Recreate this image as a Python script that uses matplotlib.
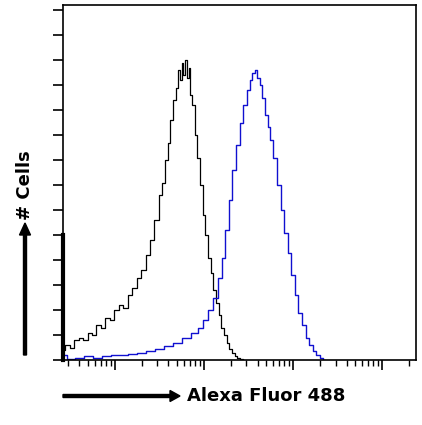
import matplotlib
matplotlib.use("Agg")
import matplotlib.pyplot as plt
import numpy as np

black_logx = [0.42,0.47,0.52,0.57,0.62,0.67,0.72,0.77,0.82,0.87,0.92,0.97,1.02,1.07,1.12,1.17,1.22,1.27,1.32,1.37,1.42,1.47,1.52,1.55,1.58,1.61,1.64,1.67,1.70,1.72,1.74,1.76,1.78,1.80,1.82,1.84,1.86,1.88,1.91,1.94,1.97,2.00,2.03,2.06,2.09,2.12,2.15,2.18,2.21,2.24,2.27,2.30,2.33,2.36,2.39,2.42,2.45]
black_y = [0.4,0.6,0.5,0.8,0.9,0.8,1.1,1.0,1.4,1.3,1.7,1.6,2.0,2.2,2.1,2.6,2.9,3.3,3.6,4.2,4.8,5.6,6.6,7.1,8.0,8.7,9.6,10.4,10.9,11.6,11.2,11.9,11.4,12.0,11.3,11.7,10.6,10.2,9.0,8.1,7.0,5.8,5.0,4.1,3.5,2.8,2.3,1.8,1.3,1.0,0.7,0.45,0.3,0.15,0.1,0.05,0.0]
blue_logx = [0.42,0.5,0.6,0.7,0.8,0.9,1.0,1.1,1.2,1.3,1.4,1.5,1.6,1.7,1.8,1.9,1.96,2.02,2.08,2.13,2.18,2.22,2.26,2.30,2.34,2.38,2.42,2.46,2.50,2.53,2.56,2.59,2.61,2.64,2.67,2.70,2.73,2.76,2.80,2.84,2.88,2.92,2.96,3.00,3.04,3.08,3.12,3.16,3.20,3.24,3.28,3.32,3.36]
blue_y = [0.2,0.05,0.1,0.15,0.1,0.15,0.2,0.2,0.25,0.3,0.35,0.45,0.55,0.7,0.9,1.1,1.3,1.6,2.0,2.5,3.3,4.1,5.2,6.4,7.6,8.6,9.5,10.2,10.8,11.2,11.5,11.6,11.3,11.0,10.5,9.8,9.3,8.8,8.1,7.0,6.0,5.1,4.3,3.4,2.6,1.9,1.4,0.9,0.6,0.35,0.2,0.1,0.0]

fig = plt.figure(figsize=(4.22, 4.25), dpi=100)
ax = fig.add_axes([63/422, 65/425, (416-63)/422, (360-5)/425])
ax.step(10**np.array(black_logx), black_y, where='mid', color='black', lw=0.9)
ax.step(10**np.array(blue_logx), blue_y, where='mid', color='#1010d0', lw=1.0)
ax.set_xscale('log')
ax.set_xlim(10**0.42, 10**4.38)
ax.set_ylim(0, 14.2)
ax.set_yticks(range(0, 15))
ax.set_yticklabels([])
ax.xaxis.set_minor_formatter(plt.NullFormatter())
ax.xaxis.set_major_formatter(plt.NullFormatter())
ax.tick_params(axis='x', which='major', length=7, width=1.2, direction='out')
ax.tick_params(axis='x', which='minor', length=4, width=1.0, direction='out')
ax.tick_params(axis='y', length=7, width=1.2, direction='out')
for s in ax.spines.values():
    s.set_linewidth(1.2)
ax.plot([10**0.42, 10**0.42], [0, 5], color='black', lw=3, clip_on=False)

fig.patches.append(matplotlib.patches.FancyArrow(63/422, 29/425, 117/422, 0, width=3/425,
    head_width=11/425, head_length=10/422, color='black', transform=fig.transFigure, length_includes_head=True))
fig.text(187/422, 29/425, "Alexa Fluor 488", fontsize=13, fontweight='bold', va='center', ha='left')
fig.patches.append(matplotlib.patches.FancyArrow(25/422, 70/425, 0, 132/425, width=3/422,
    head_width=11/422, head_length=12/425, color='black', transform=fig.transFigure, length_includes_head=True))
fig.text(25/422, 240/425, "# Cells", fontsize=13, fontweight='bold', va='center', ha='center', rotation=90)
fig.savefig("out.png", dpi=100)
